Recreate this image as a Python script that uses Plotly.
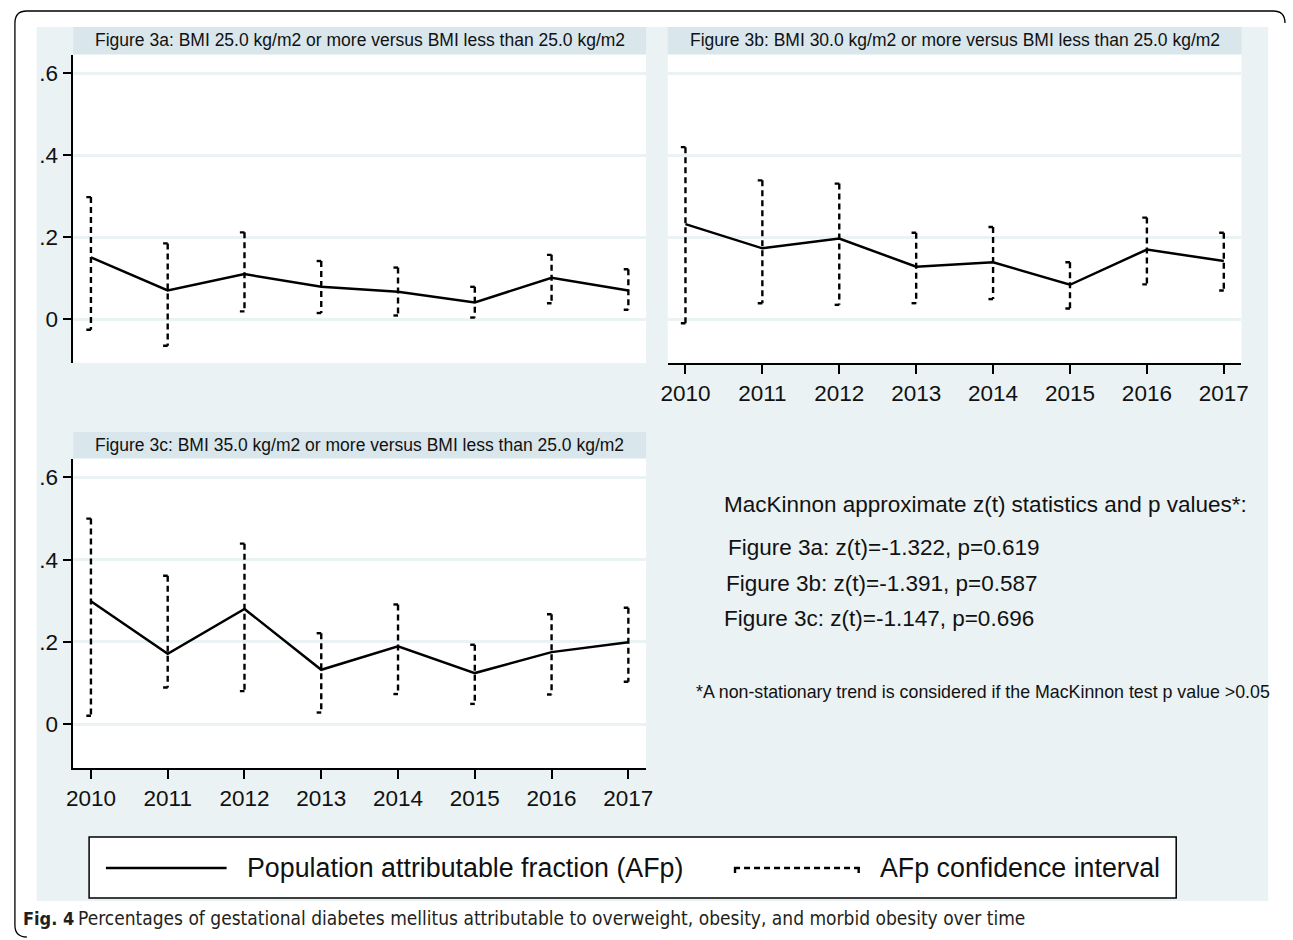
import plotly.graph_objects as go

# ---------------- data ----------------
years = [2010, 2011, 2012, 2013, 2014, 2015, 2016, 2017]

afp_3a = [0.151, 0.070, 0.110, 0.079, 0.067, 0.041, 0.101, 0.070]
lo_3a = [-0.026, -0.065, 0.019, 0.015, 0.009, 0.004, 0.039, 0.023]
hi_3a = [0.298, 0.185, 0.212, 0.142, 0.126, 0.079, 0.157, 0.122]

afp_3b = [0.232, 0.173, 0.197, 0.128, 0.139, 0.084, 0.170, 0.142]
lo_3b = [-0.010, 0.039, 0.035, 0.039, 0.049, 0.026, 0.085, 0.070]
hi_3b = [0.420, 0.339, 0.331, 0.211, 0.225, 0.139, 0.248, 0.211]

afp_3c = [0.299, 0.171, 0.280, 0.132, 0.189, 0.124, 0.175, 0.199]
lo_3c = [0.020, 0.089, 0.080, 0.028, 0.073, 0.049, 0.072, 0.103]
hi_3c = [0.500, 0.361, 0.439, 0.221, 0.291, 0.193, 0.267, 0.283]

panel_titles = [
    "Figure 3a: BMI 25.0 kg/m2 or more versus BMI less than 25.0 kg/m2",
    "Figure 3b: BMI 30.0 kg/m2 or more versus BMI less than 25.0 kg/m2",
    "Figure 3c: BMI 35.0 kg/m2 or more versus BMI less than 25.0 kg/m2",
]
ytick_vals = [0, 0.2, 0.4, 0.6]
ytick_text = ["0", ".2", ".4", ".6"]

stats_header = "MacKinnon approximate z(t) statistics and p values*:"
stats_lines = [
    "Figure 3a: z(t)=-1.322, p=0.619",
    "Figure 3b: z(t)=-1.391, p=0.587",
    "Figure 3c: z(t)=-1.147, p=0.696",
]
footnote = "*A non-stationary trend is considered if the MacKinnon test p value >0.05"
legend_labels = ["Population attributable fraction (AFp)", "AFp confidence interval"]
caption_head = "Fig. 4"
caption_body = ("Percentages of gestational diabetes mellitus attributable to overweight, "
                "obesity, and morbid obesity over time")

# ---------------- layout helpers ----------------
W, H = 1293, 940


def X(px):
    return px / W


def Y(py):
    return 1 - py / H


BG = "#EAF2F3"
STRIP = "#D9E6EC"
GRID = "#EAF2F3"
FONT = "Liberation Sans, Arial, sans-serif"
TXT = "#111111"
CAP_W = 0.06

fig = go.Figure()

panels = [
    dict(x="x", y="y", afp=afp_3a, lo=lo_3a, hi=hi_3a),
    dict(x="x2", y="y2", afp=afp_3b, lo=lo_3b, hi=hi_3b),
    dict(x="x3", y="y3", afp=afp_3c, lo=lo_3c, hi=hi_3c),
]

for p in panels:
    ci_x, ci_y, cap_x, cap_y = [], [], [], []
    for yr, lo, hi in zip(years, p["lo"], p["hi"]):
        ci_x += [yr, yr, None]
        ci_y += [hi, lo, None]
        cap_x += [yr - CAP_W, yr, None, yr - CAP_W, yr, None]
        cap_y += [hi, hi, None, lo, lo, None]
    fig.add_trace(go.Scatter(x=ci_x, y=ci_y, mode="lines", xaxis=p["x"], yaxis=p["y"],
                             line=dict(color="black", width=2.4, dash="6px,4px"),
                             showlegend=False, hoverinfo="skip"))
    fig.add_trace(go.Scatter(x=cap_x, y=cap_y, mode="lines", xaxis=p["x"], yaxis=p["y"],
                             line=dict(color="black", width=2.4),
                             showlegend=False, hoverinfo="skip"))
    fig.add_trace(go.Scatter(x=years, y=p["afp"], mode="lines", xaxis=p["x"], yaxis=p["y"],
                             line=dict(color="black", width=2.5),
                             showlegend=False))

xr = [2009.77, 2017.23]
yr_ = [-0.107, 0.645]

dom_a_x = [X(67), X(646)]
dom_b_x = [X(668), X(1248)]
dom_top_y = [Y(363), Y(55)]
dom_bot_y = [Y(768), Y(459)]

tickfont = dict(family=FONT, size=22.5, color=TXT)


def xaxis_cfg(domain, anchor, show):
    d = dict(domain=domain, range=xr, anchor=anchor, showgrid=False, zeroline=False,
             fixedrange=True)
    if show:
        d.update(tickvals=years, ticktext=[str(v) for v in years], ticks="outside",
                 ticklen=9, tickwidth=1.5, tickcolor="black", showline=True,
                 linecolor="black", linewidth=1.5, tickfont=tickfont)
    else:
        d.update(showticklabels=False, ticks="", showline=False)
    return d


def yaxis_cfg(domain, anchor, show):
    d = dict(domain=domain, range=yr_, anchor=anchor, showgrid=True, gridcolor=GRID,
             gridwidth=2.5, zeroline=False, tickvals=ytick_vals, fixedrange=True)
    if show:
        d.update(ticktext=ytick_text, ticks="outside", ticklen=9, tickwidth=1.5,
                 tickcolor="black", showline=True, linecolor="black", linewidth=1.5,
                 tickfont=tickfont)
    else:
        d.update(showticklabels=False, ticks="", showline=False)
    return d


shapes = []
# outer rounded frame
r = 12
fx0, fy0, fx1, fy1 = 8, 11, 1292, 937
path = (f"M {X(fx1)},{Y(fy0 + r)} Q {X(fx1)},{Y(fy0)} {X(fx1 - r)},{Y(fy0)} "
        f"L {X(fx0 + r)},{Y(fy0)} Q {X(fx0)},{Y(fy0)} {X(fx0)},{Y(fy0 + r)} "
        f"L {X(fx0)},{Y(fy1 - r)} Q {X(fx0)},{Y(fy1)} {X(fx0 + r)},{Y(fy1)}")
shapes.append(dict(type="path", xref="paper", yref="paper", path=path,
                   line=dict(color="black", width=1.3), layer="below"))
# graph region background
shapes.append(dict(type="rect", xref="paper", yref="paper", x0=X(30), x1=X(1275),
                   y0=Y(901), y1=Y(27), fillcolor=BG, line=dict(width=0), layer="below"))
# plot areas (white) and title strips
for (x0, x1), (py0, py1), (sy0, sy1) in [
    ((67, 646), (55, 363), (27, 54)),
    ((668, 1248), (55, 363), (27, 54)),
    ((67, 646), (459, 768), (432, 458)),
]:
    shapes.append(dict(type="rect", xref="paper", yref="paper", x0=X(x0), x1=X(x1),
                       y0=Y(py1), y1=Y(py0), fillcolor="white", line=dict(width=0),
                       layer="below"))
    shapes.append(dict(type="rect", xref="paper", yref="paper", x0=X(x0), x1=X(x1),
                       y0=Y(sy1), y1=Y(sy0), fillcolor=STRIP, line=dict(width=0),
                       layer="below"))

# legend box
shapes.append(dict(type="rect", xref="paper", yref="paper", x0=X(83), x1=X(1182),
                   y0=Y(898), y1=Y(837), fillcolor="white",
                   line=dict(color="black", width=1.5)))
shapes.append(dict(type="line", xref="paper", yref="paper", x0=X(100), x1=X(222),
                   y0=Y(868), y1=Y(868), line=dict(color="black", width=2.5)))
shapes.append(dict(type="line", xref="paper", yref="paper", x0=X(735), x1=X(862),
                   y0=Y(868), y1=Y(868), line=dict(color="black", width=2.4, dash="6px,4px")))
for lx in (736, 861):
    shapes.append(dict(type="line", xref="paper", yref="paper", x0=X(lx), x1=X(lx),
                       y0=Y(867), y1=Y(873), line=dict(color="black", width=2.4)))

annotations = []
for title, (x0, x1), (sy0, sy1) in zip(panel_titles,
                                       [(67, 646), (668, 1248), (67, 646)],
                                       [(27, 54), (27, 54), (432, 458)]):
    annotations.append(dict(text=title, xref="paper", yref="paper",
                            x=X((x0 + x1) / 2), y=Y((sy0 + sy1) / 2),
                            xanchor="center", yanchor="middle", showarrow=False,
                            font=dict(family=FONT, size=17.5, color=TXT)))

annotations.append(dict(text=stats_header, xref="paper", yref="paper", x=X(723), y=Y(504),
                        xanchor="left", yanchor="middle", showarrow=False,
                        font=dict(family=FONT, size=22.5, color=TXT)))
for txt, lx, ly in zip(stats_lines, [727, 725, 723], [547, 583, 618]):
    annotations.append(dict(text=txt, xref="paper", yref="paper", x=X(lx), y=Y(ly),
                            xanchor="left", yanchor="middle", showarrow=False,
                            font=dict(family=FONT, size=22.5, color=TXT)))
annotations.append(dict(text=footnote, xref="paper", yref="paper", x=X(695), y=Y(692),
                        xanchor="left", yanchor="middle", showarrow=False,
                        font=dict(family=FONT, size=17.8, color=TXT)))

annotations.append(dict(text=legend_labels[0], xref="paper", yref="paper", x=X(241), y=Y(868),
                        xanchor="left", yanchor="middle", showarrow=False,
                        font=dict(family=FONT, size=26.8, color=TXT)))
annotations.append(dict(text=legend_labels[1], xref="paper", yref="paper", x=X(881), y=Y(868),
                        xanchor="left", yanchor="middle", showarrow=False,
                        font=dict(family=FONT, size=26.8, color=TXT)))

CAPFONT = "Liberation Sans Narrow, DejaVu Sans Condensed, Open Sans, sans-serif"
annotations.append(dict(text="<b>" + caption_head + "</b>", xref="paper", yref="paper",
                        x=X(14), y=Y(918), xanchor="left", yanchor="middle", showarrow=False,
                        font=dict(family=CAPFONT, size=18, color="#231F20")))
annotations.append(dict(text=caption_body, xref="paper", yref="paper",
                        x=X(70), y=Y(918), xanchor="left", yanchor="middle", showarrow=False,
                        font=dict(family=CAPFONT, size=19, color="#231F20")))

fig.update_layout(
    width=W, height=H,
    margin=dict(l=0, r=0, t=0, b=0),
    paper_bgcolor="white",
    plot_bgcolor="rgba(0,0,0,0)",
    showlegend=False,
    xaxis=xaxis_cfg(dom_a_x, "y", False),
    yaxis=yaxis_cfg(dom_top_y, "x", True),
    xaxis2=xaxis_cfg(dom_b_x, "y2", True),
    yaxis2=yaxis_cfg(dom_top_y, "x2", False),
    xaxis3=xaxis_cfg(dom_a_x, "y3", True),
    yaxis3=yaxis_cfg(dom_bot_y, "x3", True),
    shapes=shapes,
    annotations=annotations,
)

fig.write_html("out.html",
               config={"displayModeBar": False},
               post_script="document.body.style.margin='0';document.body.style.overflow='hidden';")
